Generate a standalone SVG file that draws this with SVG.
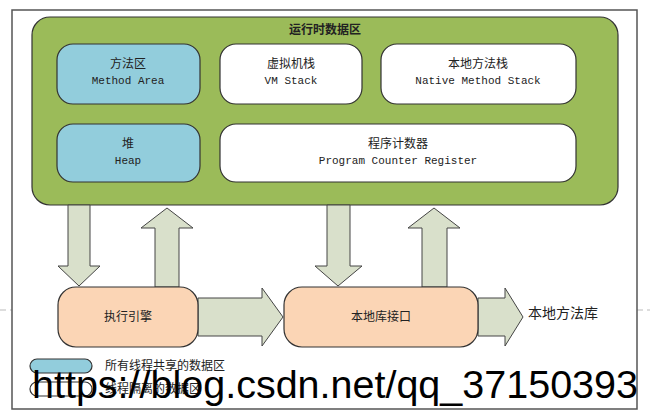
<svg xmlns="http://www.w3.org/2000/svg" width="650" height="417" viewBox="0 0 650 417">
<style>
.cn{font-family:"Noto Sans CJK SC",sans-serif;font-size:12px;fill:#222;text-anchor:middle}
.en{font-family:"Liberation Mono",monospace;font-size:11px;fill:#222;text-anchor:middle}
.box{stroke:#333;stroke-width:1.2}
.arr{fill:#d9e0cb;stroke:#444;stroke-width:1}
</style>
<rect width="650" height="417" fill="#fff"/>
<line x1="0" y1="310" x2="12" y2="310" stroke="#bbb" stroke-dasharray="6,4"/>
<line x1="637" y1="310" x2="650" y2="310" stroke="#bbb" stroke-dasharray="6,4"/>
<rect x="12" y="10" width="625" height="399" fill="none" stroke="#555" stroke-width="1.5"/>
<g id="runtime"><rect x="32" y="17" width="586" height="188" rx="18" fill="#9bbb59" class="box"/>
<text x="325" y="34" class="cn" font-weight="bold" font-size="12">运行时数据区</text></g>
<g id="method"><rect x="57" y="44" width="143" height="60" rx="16" fill="#92cddc" class="box"/><text x="128" y="68" class="cn">方法区</text><text x="128" y="84" class="en">Method Area</text></g>
<g id="vmstack"><rect x="220" y="44" width="142" height="60" rx="16" fill="#fff" class="box"/><text x="291" y="68" class="cn">虚拟机栈</text><text x="291" y="84" class="en">VM Stack</text></g>
<g id="native"><rect x="381" y="44" width="195" height="60" rx="16" fill="#fff" class="box"/><text x="478" y="68" class="cn">本地方法栈</text><text x="478" y="84" class="en">Native Method Stack</text></g>
<g id="heap"><rect x="57" y="124" width="143" height="58" rx="16" fill="#92cddc" class="box"/><text x="128" y="148" class="cn">堆</text><text x="128" y="164" class="en">Heap</text></g>
<g id="pc"><rect x="220" y="124" width="356" height="58" rx="16" fill="#fff" class="box"/><text x="398" y="148" class="cn">程序计数器</text><text x="398" y="164" class="en">Program Counter Register</text></g>
<g id="connectors">
<polygon class="arr" points="68,205 90,205 90,266 100,266 79,286 58,266 68,266"/>
<polygon class="arr" points="155,287 179,287 179,228 193,228 167,208 141,228 155,228"/>
<polygon class="arr" points="327,205 350,205 350,266 362,266 338,286 315,266 327,266"/>
<polygon class="arr" points="422,287 447,287 447,228 460,228 434,208 408,228 422,228"/>
<polygon class="arr" points="198,298 262,298 262,288 283,317 262,346 262,336 198,336"/>
<polygon class="arr" points="478,298 505,298 505,288 523,317 505,346 505,336 478,336"/>
</g>
<g id="engine"><rect x="58" y="287" width="140" height="60" rx="18" fill="#fbd5b5" class="box"/><text x="128" y="321" class="cn">执行引擎</text></g>
<g id="nativeif"><rect x="284" y="287" width="194" height="60" rx="18" fill="#fbd5b5" class="box"/><text x="381" y="321" class="cn">本地库接口</text></g>
<g id="nativelib"><text x="528" y="318" class="cn" style="text-anchor:start;font-size:14px">本地方法库</text></g>
<g id="legend">
<rect x="30" y="359" width="62" height="14" rx="7" fill="#92cddc" class="box"/>
<text x="105" y="370" class="cn" style="text-anchor:start">所有线程共享的数据区</text>
<rect x="30" y="382" width="62" height="14" rx="7" fill="#fff" class="box"/>
<text x="105" y="393" class="cn" style="text-anchor:start">线程隔离的数据区</text>
</g>
<text x="32" y="398" font-family="Liberation Sans,sans-serif" font-size="39" fill="#000" textLength="606" lengthAdjust="spacingAndGlyphs">https://blog.csdn.net/qq_37150393</text>
</svg>
